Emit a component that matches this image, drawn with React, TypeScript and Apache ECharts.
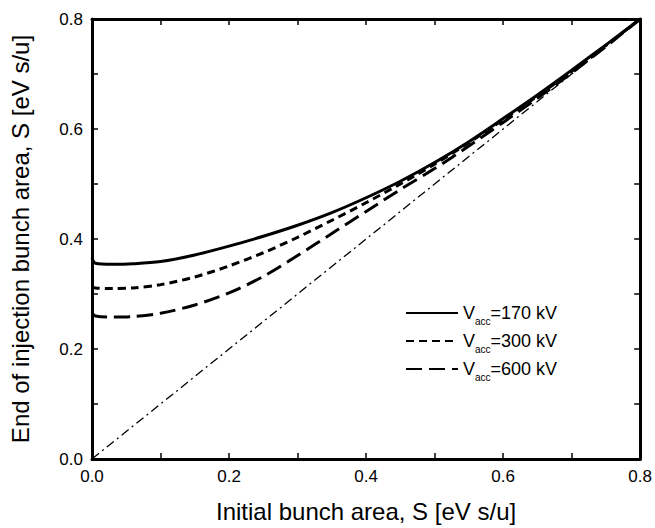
import React, { useEffect, useRef } from "react";
import * as echarts from "echarts";

const xValues = [0, 0.005, 0.03, 0.06, 0.1, 0.15, 0.2, 0.25, 0.3, 0.35, 0.4, 0.45, 0.5, 0.55, 0.6, 0.65, 0.7, 0.75, 0.8];
const s170 = [0.366, 0.356, 0.354, 0.355, 0.359, 0.371, 0.387, 0.405, 0.425, 0.448, 0.475, 0.505, 0.539, 0.577, 0.619, 0.662, 0.707, 0.753, 0.8];
const s300 = [0.313, 0.311, 0.31, 0.311, 0.317, 0.331, 0.351, 0.375, 0.403, 0.434, 0.466, 0.5, 0.536, 0.575, 0.617, 0.66, 0.705, 0.752, 0.8];
const s600 = [0.265, 0.26, 0.258, 0.259, 0.265, 0.28, 0.302, 0.332, 0.37, 0.41, 0.45, 0.49, 0.528, 0.569, 0.612, 0.656, 0.702, 0.75, 0.8];
const diagX = [0, 0.8];
const diagY = [0, 0.8];
const seriesNames = ["V_acc=170 kV", "V_acc=300 kV", "V_acc=600 kV"];
const tickValues = [0, 0.2, 0.4, 0.6, 0.8];

const FONT = "Liberation Sans";

export default function App() {
  const ref = useRef<HTMLDivElement>(null);
  useEffect(() => {
    const chart = echarts.init(ref.current!, null, { renderer: "svg" });
    const pairs = (xs: number[], ys: number[]) => xs.map((x, i) => [x, ys[i]]);
    const labelFmt = (v: number) => {
      const s = v.toFixed(1);
      return tickValues.some((t) => Math.abs(t - v) < 1e-6) ? s : "";
    };
    const axisCommon = {
      type: "value" as const,
      min: 0,
      max: 0.8,
      interval: 0.1,
      axisLine: { show: true, onZero: false, lineStyle: { color: "#000", width: 3 } },
      axisTick: { show: true, inside: true, length: 6, lineStyle: { color: "#000", width: 1.5 } },
      splitLine: { show: false },
    };
    chart.setOption({
      animation: false,
      backgroundColor: "#fff",
      grid: { left: 90, right: 14, top: 19, bottom: 55 },
      xAxis: [
        {
          ...axisCommon,
          position: "bottom",
          name: "Initial bunch area, S [eV s/u]",
          nameLocation: "middle",
          nameGap: 40,
          nameTextStyle: { fontFamily: FONT, fontSize: 24, color: "#000" },
          axisLabel: { formatter: labelFmt, fontFamily: FONT, fontSize: 17, color: "#000", margin: 9 },
        },
        {
          ...axisCommon,
          position: "top",
          axisLabel: { show: false },
        },
      ],
      yAxis: [
        {
          ...axisCommon,
          position: "left",
          name: "End of injection bunch area, S [eV s/u]",
          nameLocation: "middle",
          nameGap: 60,
          nameTextStyle: { fontFamily: FONT, fontSize: 24, color: "#000" },
          axisLabel: { formatter: labelFmt, fontFamily: FONT, fontSize: 17, color: "#000", margin: 9 },
        },
        {
          ...axisCommon,
          position: "right",
          axisLabel: { show: false },
        },
      ],
      legend: {
        orient: "vertical",
        left: 400,
        top: 299,
        itemWidth: 52,
        itemHeight: 14,
        itemGap: 6,
        itemStyle: { opacity: 0 },
        data: seriesNames,
        formatter: (name: string) => {
          const rest = name.replace("V_acc", "");
          return "{a|V}{sub|acc}{a|" + rest + "}";
        },
        textStyle: {
          color: "#000",
          fontFamily: FONT,
          rich: {
            a: { fontSize: 18, fontFamily: FONT, color: "#000" },
            sub: { fontSize: 10, fontFamily: FONT, color: "#000", verticalAlign: "bottom", padding: [0, 0, -4, 0] },
          },
        },
      },
      series: [
        {
          name: seriesNames[0],
          type: "line",
          data: pairs(xValues, s170),
          showSymbol: false,
          symbol: "none",
          smooth: 0.3,
          lineStyle: { color: "#000", width: 3, type: "solid" },
          itemStyle: { color: "#000" },
        },
        {
          name: seriesNames[1],
          type: "line",
          data: pairs(xValues, s300),
          showSymbol: false,
          symbol: "none",
          smooth: 0.3,
          lineStyle: { color: "#000", width: 3, type: [8, 5] },
          itemStyle: { color: "#000" },
        },
        {
          name: seriesNames[2],
          type: "line",
          data: pairs(xValues, s600),
          showSymbol: false,
          symbol: "none",
          smooth: 0.3,
          lineStyle: { color: "#000", width: 3, type: [16, 7] },
          itemStyle: { color: "#000" },
        },
        {
          name: "diagonal",
          type: "line",
          data: pairs(diagX, diagY),
          showSymbol: false,
          symbol: "none",
          lineStyle: { color: "#000", width: 1.3, type: [9, 4, 2, 4] },
          itemStyle: { color: "#000" },
        },
      ],
    });
    return () => chart.dispose();
  }, []);
  return (
    <div
      ref={ref}
      style={{ position: "fixed", left: 0, top: 0, width: 655, height: 528, background: "#fff" }}
    />
  );
}
